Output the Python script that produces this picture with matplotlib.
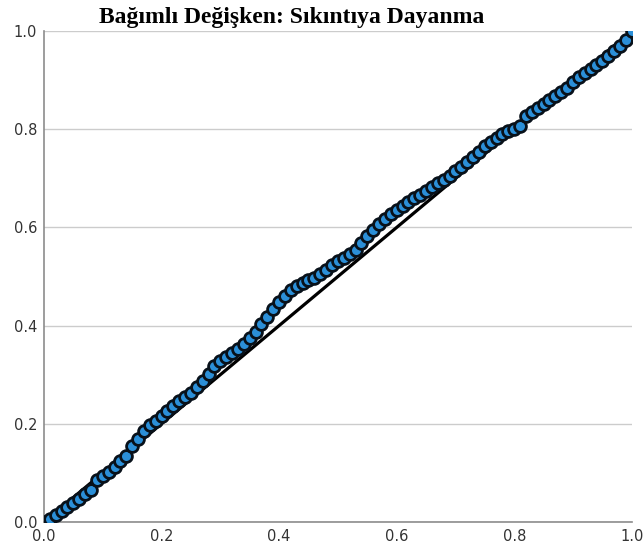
import matplotlib
matplotlib.use("Agg")
import matplotlib.pyplot as plt

# observed cumulative probability vs expected cumulative probability
obs_cum = [0.00, 0.01, 0.02, 0.03, 0.04, 0.05, 0.06, 0.07, 0.08, 0.09,
           0.10, 0.11, 0.12, 0.13, 0.14, 0.15, 0.16, 0.17, 0.18, 0.19,
           0.20, 0.21, 0.22, 0.23, 0.24, 0.25, 0.26, 0.27, 0.28, 0.29,
           0.30, 0.31, 0.32, 0.33, 0.34, 0.35, 0.36, 0.37, 0.38, 0.39,
           0.40, 0.41, 0.42, 0.43, 0.44, 0.45, 0.46, 0.47, 0.48, 0.49,
           0.50, 0.51, 0.52, 0.53, 0.54, 0.55, 0.56, 0.57, 0.58, 0.59,
           0.60, 0.61, 0.62, 0.63, 0.64, 0.65, 0.66, 0.67, 0.68, 0.69,
           0.70, 0.71, 0.72, 0.73, 0.74, 0.75, 0.76, 0.77, 0.78, 0.79,
           0.80, 0.81, 0.82, 0.83, 0.84, 0.85, 0.86, 0.87, 0.88, 0.89,
           0.90, 0.91, 0.92, 0.93, 0.94, 0.95, 0.96, 0.97, 0.98, 0.99,
           1.00]
exp_cum = [0.000, 0.007, 0.015, 0.022, 0.030, 0.038, 0.047, 0.056, 0.065, 0.085,
           0.094, 0.102, 0.112, 0.124, 0.135, 0.155, 0.170, 0.186, 0.198, 0.206,
           0.215, 0.226, 0.237, 0.247, 0.255, 0.263, 0.274, 0.288, 0.302, 0.317,
           0.328, 0.336, 0.345, 0.353, 0.362, 0.374, 0.387, 0.403, 0.418, 0.434,
           0.448, 0.461, 0.472, 0.480, 0.487, 0.493, 0.498, 0.505, 0.513, 0.523,
           0.532, 0.538, 0.545, 0.555, 0.568, 0.582, 0.595, 0.606, 0.617, 0.627,
           0.635, 0.643, 0.651, 0.659, 0.667, 0.675, 0.682, 0.690, 0.697, 0.705,
           0.714, 0.723, 0.733, 0.743, 0.754, 0.765, 0.774, 0.782, 0.790, 0.796,
           0.800, 0.807, 0.826, 0.836, 0.844, 0.852, 0.860, 0.867, 0.875, 0.885,
           0.896, 0.906, 0.915, 0.923, 0.931, 0.940, 0.949, 0.959, 0.970, 0.982,
           1.000]
ticks = [0.0, 0.2, 0.4, 0.6, 0.8, 1.0]
title = "Bağımlı Değişken: Sıkıntıya Dayanma"

fig = plt.figure(figsize=(6.44, 5.55), dpi=100)
ax = fig.add_axes([0.0683, 0.0595, 0.9127, 0.8845])

ax.set_xlim(0, 1)
ax.set_ylim(0, 1)
ax.set_xticks(ticks)
ax.set_yticks(ticks)
ax.set_xticklabels([f"{t:.1f}" for t in ticks])
ax.set_yticklabels([f"{t:.1f}" for t in ticks])
ax.tick_params(length=0, labelsize=10.5, labelcolor="#333333", pad=5)

ax.grid(axis="y", color="#cccccc", linewidth=1.0)
ax.set_axisbelow(True)
for side in ["top", "right"]:
    ax.spines[side].set_visible(False)
for side in ["left", "bottom"]:
    ax.spines[side].set_color("#8c8c8c")
    ax.spines[side].set_linewidth(1.2)

ax.plot([0, 1], [0, 1], color="black", linewidth=2.3, zorder=2)
ax.plot(obs_cum, exp_cum, linestyle="none", marker="o", markersize=8.5,
        markerfacecolor="#2b8fd8", markeredgecolor="#08111a",
        markeredgewidth=2.0, zorder=3)

fig.text(0.453, 0.968, title, ha="center", va="center",
         fontsize=17, fontweight="bold", family="Liberation Serif")

fig.savefig("out.png", dpi=100)
